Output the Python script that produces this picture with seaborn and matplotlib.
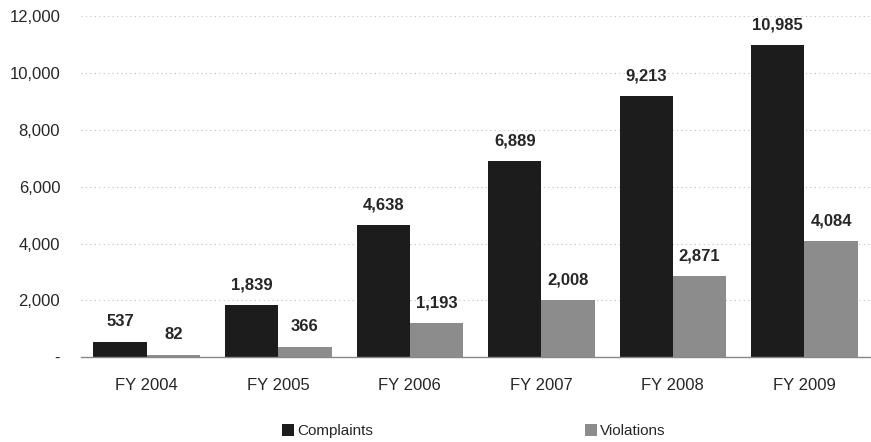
import matplotlib
matplotlib.use("Agg")
import matplotlib.pyplot as plt
import seaborn as sns
import pandas as pd
from matplotlib.patches import Patch

years = ["FY 2004", "FY 2005", "FY 2006", "FY 2007", "FY 2008", "FY 2009"]
complaints = [537, 1839, 4638, 6889, 9213, 10985]
violations = [82, 366, 1193, 2008, 2871, 4084]
series = ["Complaints", "Violations"]
colors = ["#1c1c1c", "#8c8c8c"]

df = pd.DataFrame({
    "year": years * 2,
    "value": complaints + violations,
    "series": [series[0]] * len(years) + [series[1]] * len(years),
})

sns.set_style("white")
plt.rcParams["font.family"] = ["Liberation Sans", "DejaVu Sans"]

fig = plt.figure(figsize=(8.71, 4.42), dpi=100)
ax = fig.add_axes([0.093, 0.192, 0.906, 0.771])

sns.barplot(data=df, x="year", y="value", hue="series", palette=colors,
            width=0.81, saturation=1, ax=ax, legend=False, edgecolor="none")

ax.set_ylim(0, 12000)
ax.set_xlim(-0.5, 5.5)
ax.set_yticks(range(0, 12001, 2000))
ax.set_yticklabels(["-"] + [f"{v:,}" for v in range(2000, 12001, 2000)], fontsize=12)
ax.tick_params(axis="x", labelsize=12, length=0, pad=15)
ax.tick_params(axis="y", length=0, pad=15)
ax.set_xlabel("")
ax.set_ylabel("")
for s in ["top", "right", "left"]:
    ax.spines[s].set_visible(False)
ax.spines["bottom"].set_color("#888888")
ax.spines["bottom"].set_linewidth(1)

for v in range(2000, 12001, 2000):
    ax.axhline(v, color="#c0c0c0", lw=0.8, ls=(0, (1, 3)), zorder=0)

for cont in ax.containers:
    ax.bar_label(cont, labels=[f"{int(b.get_height()):,}" for b in cont],
                 padding=9, fontsize=12, fontweight="bold")

handles = [Patch(facecolor=c, edgecolor="none", label=s) for c, s in zip(colors, series)]
fig.legend(handles=handles, loc="lower center", bbox_to_anchor=(0.544, -0.023), ncol=2,
           frameon=False, fontsize=11, handlelength=0.75, handleheight=0.75,
           handletextpad=0.2, columnspacing=13.9)

fig.savefig("out.png", dpi=100)
